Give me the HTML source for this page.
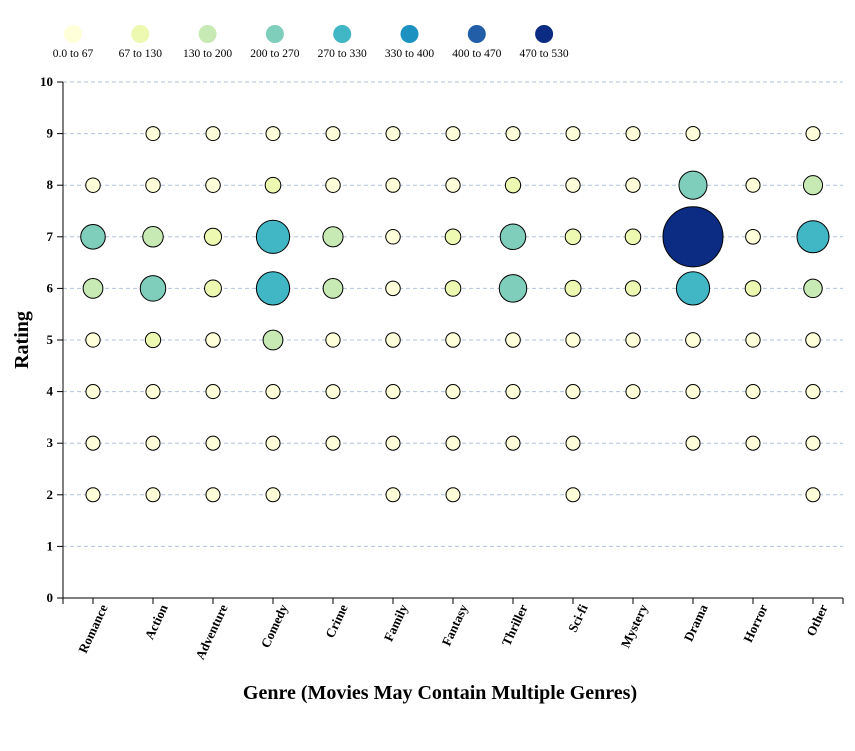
<!DOCTYPE html>
<html><head><meta charset="utf-8"><style>
body{margin:0;background:#fff}
svg text{font-family:"Liberation Serif",serif}
</style></head><body>
<svg id="chart" width="855" height="746" xmlns="http://www.w3.org/2000/svg"></svg>
<script>
const genres=["Romance","Action","Adventure","Comedy","Crime","Family","Fantasy","Thriller","Sci-fi","Mystery","Drama","Horror","Other"];
const ratings=[2,3,4,5,6,7,8,9];
// counts[genre][rating index 2..9], 0 = no bubble
const counts=[
[10,15,20,40,170,230,50,0],
[10,15,25,80,240,180,50,10],
[10,15,20,50,120,125,50,10],
[10,20,30,170,310,310,90,10],
[0,15,15,40,170,175,50,10],
[10,15,25,50,50,50,30,10],
[10,15,25,50,90,90,40,10],
[0,15,30,55,260,240,80,10],
[10,15,25,40,100,90,40,10],
[0,0,15,40,80,90,40,10],
[0,15,20,60,310,480,265,20],
[0,15,20,40,90,60,20,0],
[10,20,25,50,150,300,160,10]];
const binLabels=["0.0 to 67","67 to 130","130 to 200","200 to 270","270 to 330","330 to 400","400 to 470","470 to 530"];
const binEdges=[67,130,200,270,330,400,470];
const binColors=["#ffffd9","#edf8b1","#c7e9b4","#7fcdbb","#41b6c4","#1d91c0","#225ea8","#0c2c84"];
const yTicks=[0,1,2,3,4,5,6,7,8,9,10];

const NS="http://www.w3.org/2000/svg";
const svg=document.getElementById('chart');
const L=63,R=843,T=82,B=598;
const band=(R-L)/genres.length;
const x=i=>L+band*(i+0.5);
const y=v=>B-(B-T)*v/10;
const r=c=>7+c*c/10000;
const color=c=>{let i=0;while(i<binEdges.length&&c>=binEdges[i])i++;return binColors[i];};
function mk(tag,attrs,parent){const e=document.createElementNS(NS,tag);for(const k in attrs)e.setAttribute(k,attrs[k]);(parent||svg).appendChild(e);return e;}

yTicks.forEach(v=>{
  const g=mk('line',{x1:L,x2:R,y1:y(v),y2:y(v),stroke:'#b0c4de','stroke-dasharray':'4,3','stroke-width':1});
  
  
});
const ya=mk('g',{});


mk('line',{x1:L,x2:L,y1:T,y2:B,stroke:'#000'},ya);
yTicks.forEach(v=>{
  mk('line',{x1:L-6,x2:L,y1:y(v),y2:y(v),stroke:'#000'},ya);
  const t=mk('text',{x:L-10,y:y(v)+4,'text-anchor':'end','font-size':13,'font-weight':'bold'},ya);
  t.textContent=v;
  
  
});
const xa=mk('g',{});


mk('line',{x1:L,x2:R,y1:B,y2:B,stroke:'#000'},xa);
mk('line',{x1:L,x2:L,y1:B,y2:B+6,stroke:'#000'},xa);
mk('line',{x1:R,x2:R,y1:B,y2:B+6,stroke:'#000'},xa);
genres.forEach((g,i)=>{
  mk('line',{x1:x(i),x2:x(i),y1:B,y2:B+6,stroke:'#000'},xa);
  const t=mk('text',{x:0,y:0,'text-anchor':'end','font-size':13,'font-weight':'bold',transform:`translate(${x(i)+15},${B+9}) rotate(-65)`},xa);
  t.textContent=g;
  
  
});
const yt=mk('text',{x:0,y:0,'text-anchor':'middle','font-size':20,'font-weight':'bold',transform:`translate(28,${(T+B)/2}) rotate(-90)`});
yt.textContent='Rating';


const xt=mk('text',{x:(L+R)/2-13,y:699,'text-anchor':'middle','font-size':20,'font-weight':'bold'});
xt.textContent='Genre (Movies May Contain Multiple Genres)';


genres.forEach((g,i)=>{
  ratings.forEach((rt,j)=>{
    const c=counts[i][j];
    if(!c)return;
    const b=mk('circle',{cx:x(i),cy:y(rt),r:r(c),fill:color(c),stroke:'#000','stroke-width':1});
    
    
  });
});
const lg=mk('g',{});


binLabels.forEach((lab,i)=>{
  const cx=73+i*67.3;
  const e=mk('g',{},lg);
  
  
  mk('circle',{cx:cx,cy:34,r:9,fill:binColors[i]},e);
  const t=mk('text',{x:cx,y:57,'text-anchor':'middle','font-size':11.5},e);
  t.textContent=lab;
});
</script>
</body></html>
